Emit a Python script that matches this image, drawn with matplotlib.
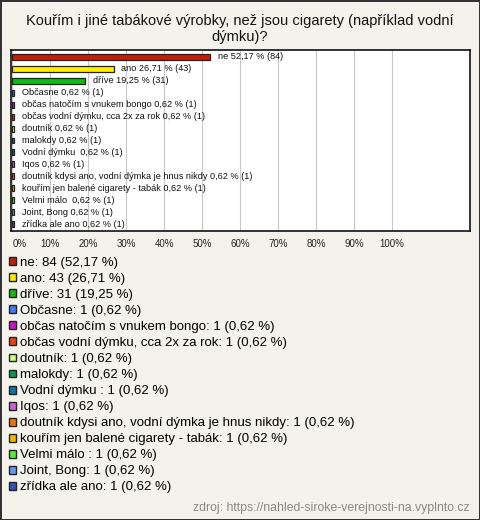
import matplotlib
matplotlib.use('Agg')
import matplotlib.pyplot as plt
from matplotlib.patches import Patch
import numpy as np

plt.rcParams['font.family'] = ['Liberation Sans', 'DejaVu Sans']

# data
categories = ['ne', 'ano', 'dříve', 'Občasne', 'občas natočím s vnukem bongo',
              'občas vodní dýmku, cca 2x za rok', 'doutník', 'malokdy', 'Vodní dýmku ',
              'Iqos', 'doutník kdysi ano, vodní dýmka je hnus nikdy',
              'kouřím jen balené cigarety - tabák', 'Velmi málo ', 'Joint, Bong',
              'zřídka ale ano']
counts = [84, 43, 31, 1, 1, 1, 1, 1, 1, 1, 1, 1, 1, 1, 1]
percents = [52.17, 26.71, 19.25, 0.62, 0.62, 0.62, 0.62, 0.62, 0.62, 0.62, 0.62, 0.62, 0.62, 0.62, 0.62]
colors = ['#c0200a', '#ffee00', '#11bb11', '#4477ff', '#cc11cc', '#ee4411', '#ccff77',
          '#119955', '#117799', '#cc66cc', '#ee7700', '#eebb00', '#55ee33', '#6699ee', '#3355bb']
xticks = [0, 10, 20, 30, 40, 50, 60, 70, 80, 90, 100]

bg = '#f4f3eb'
W, H = 480, 520
fig = plt.figure(figsize=(W / 100, H / 100), dpi=100, facecolor=bg,
                 edgecolor='#333333', linewidth=2)

fig.text(0.5, 1 - 14 / H, 'Kouřím i jiné tabákové výrobky, než jsou cigarety (například vodní\ndýmku)?',
         ha='center', va='top', fontsize=10.5, linespacing=1.2, color='#111111')

# plot area
ax = fig.add_axes([11 / W, 1 - 231 / H, (470 - 11) / W, (231 - 50) / H])
ax.set_facecolor('white')
y = np.arange(len(categories))
bars = ax.barh(y, percents, height=0.5, color=colors, edgecolor='#222222', linewidth=0.9, zorder=3)
for yi, p, c, name in zip(y, percents, counts, categories):
    ax.annotate('%s %s %% (%d)' % (name, ('%.2f' % p).replace('.', ','), c),
                xy=(p, yi), xytext=(5.5, 0), textcoords='offset points',
                va='center', ha='left', fontsize=6.6, color='#111111', zorder=4)
ax.set_ylim(len(categories) - 0.45, -0.55)
ax.set_xlim(-0.3, 120.5)
ax.set_xticks(xticks)
ax.set_xticklabels(['%d%%' % t for t in xticks], fontsize=7, color='#222222')
ax.get_xticklabels()[0].set_ha('left')
ax.set_yticks([])
ax.tick_params(axis='x', length=0, pad=6)
ax.grid(axis='x', color='#c8c8c8', linewidth=0.8, zorder=0)
for s in ax.spines.values():
    s.set_color('#111111')
    s.set_linewidth(1.2)

# legend
handles = [Patch(facecolor=col, edgecolor='#222222', linewidth=1.0) for col in colors]
labels = ['%s: %d (%s %%)' % (n, c, ('%.2f' % p).replace('.', ',')) for n, c, p in zip(categories, counts, percents)]
fig.legend(handles, labels, loc='upper left', bbox_to_anchor=(9 / W, 1 - 257 / H),
           frameon=False, fontsize=9.5, handlelength=0.55, handleheight=0.55,
           handletextpad=0.25, labelspacing=0.305, borderaxespad=0, borderpad=0)

fig.text(1 - 10 / W, 1 - 508 / H, 'zdroj: https://nahled-siroke-verejnosti-na.vyplnto.cz',
         ha='right', va='center', fontsize=8.8, color='#888888')

fig.savefig('out.png', dpi=100, facecolor=bg, edgecolor=fig.get_edgecolor())
